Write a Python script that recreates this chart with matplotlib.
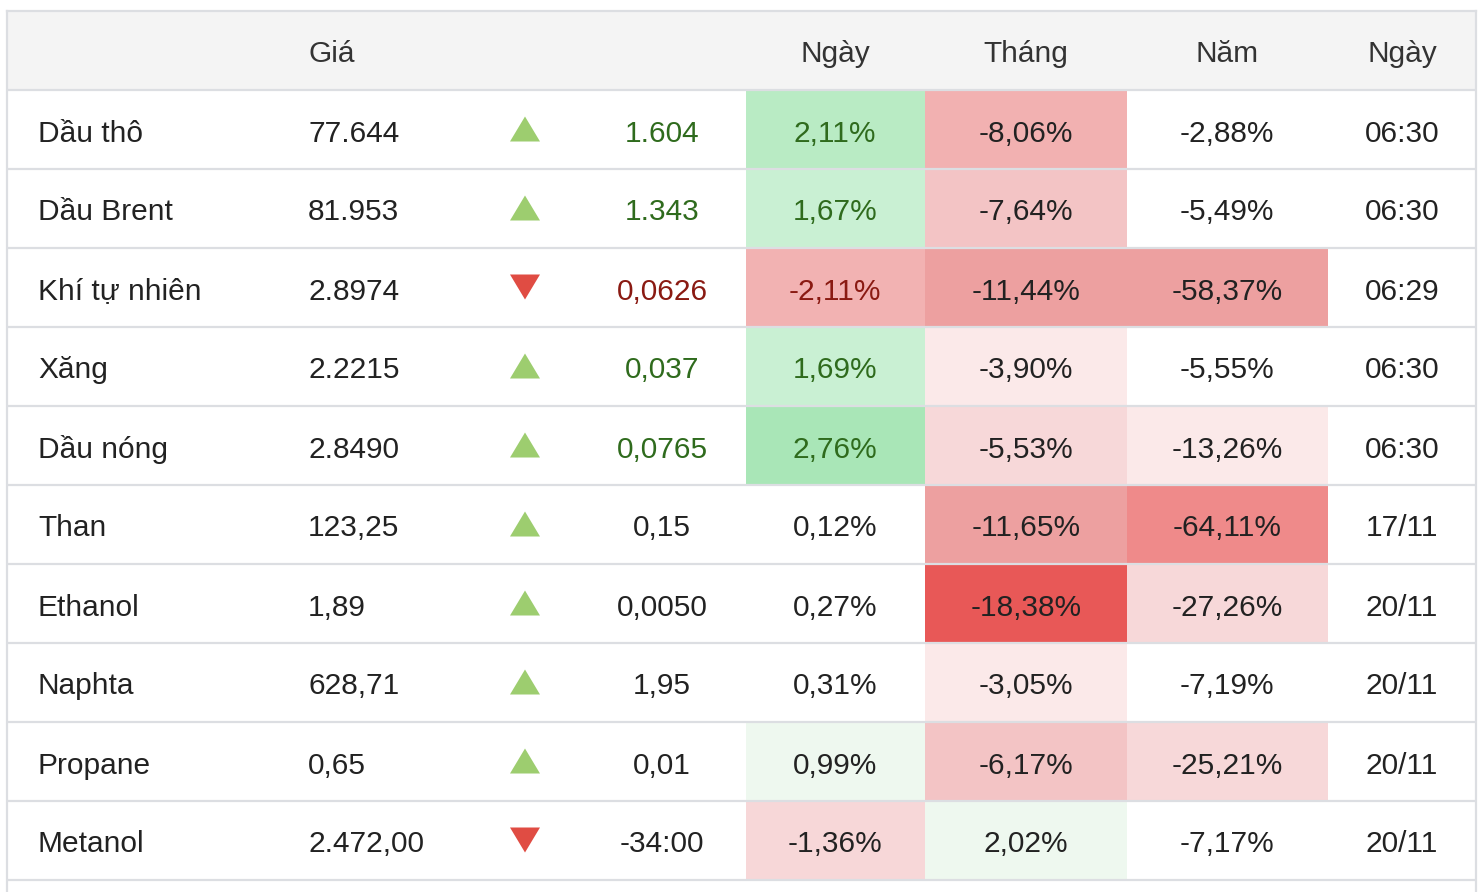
import matplotlib
matplotlib.use("Agg")
import matplotlib.pyplot as plt
from matplotlib.patches import Rectangle, Polygon

plt.rcParams['font.family'] = ['Liberation Sans', 'DejaVu Sans']

# ---- data ----
headers = ["", "Giá", "", "", "Ngày", "Tháng", "Năm", "Ngày"]
names = ["Dầu thô", "Dầu Brent", "Khí tự nhiên", "Xăng", "Dầu nóng",
         "Than", "Ethanol", "Naphta", "Propane", "Metanol"]
prices = ["77.644", "81.953", "2.8974", "2.2215", "2.8490",
          "123,25", "1,89", "628,71", "0,65", "2.472,00"]
direction = [1, 1, -1, 1, 1, 1, 1, 1, 1, -1]
changes = ["1.604", "1.343", "0,0626", "0,037", "0,0765",
           "0,15", "0,0050", "1,95", "0,01", "-34:00"]
change_color = ["#2f6b1d", "#2f6b1d", "#8a1a12", "#2f6b1d", "#2f6b1d",
                "#222222", "#222222", "#222222", "#222222", "#222222"]
day_pct = ["2,11%", "1,67%", "-2,11%", "1,69%", "2,76%",
           "0,12%", "0,27%", "0,31%", "0,99%", "-1,36%"]
month_pct = ["-8,06%", "-7,64%", "-11,44%", "-3,90%", "-5,53%",
             "-11,65%", "-18,38%", "-3,05%", "-6,17%", "2,02%"]
year_pct = ["-2,88%", "-5,49%", "-58,37%", "-5,55%", "-13,26%",
            "-64,11%", "-27,26%", "-7,19%", "-25,21%", "-7,17%"]
times = ["06:30", "06:30", "06:29", "06:30", "06:30",
         "17/11", "20/11", "20/11", "20/11", "20/11"]
day_bg = ["#b9ebc4", "#c9f0d3", "#f2b2b2", "#c9f0d3", "#a9e6b7",
          None, None, None, "#eef8ef", "#f7d7d8"]
month_bg = ["#f2b1b1", "#f3c4c5", "#eda0a0", "#fbe9e9", "#f7d8d9",
            "#eda0a0", "#e85857", "#fbe9e9", "#f3c4c5", "#eef8ef"]
year_bg = [None, None, "#eda0a0", None, "#fbe9e9",
           "#ef8a8a", "#f7d8d9", None, "#f7d8d9", None]

# ---- layout (pixel coordinates) ----
W, H = 1482, 892
left, right = 7, 1476
top, header_bot = 11, 90
row_h = 79
col_edges_pct = [746, 925, 1127, 1328]
x_name, x_price, x_tri, x_chg = 38, 308, 525, 662
x_day, x_month, x_year, x_time = 835, 1026, 1227, 1402
fs = 21.5
base_off = 51.5  # baseline offset from row top

fig = plt.figure(figsize=(W / 100, H / 100), dpi=100)
ax = fig.add_axes([0, 0, 1, 1])
ax.set_xlim(0, W)
ax.set_ylim(H, 0)
ax.axis('off')

# header background
ax.add_patch(Rectangle((left, top), right - left, header_bot - top,
                       facecolor="#f4f4f4", edgecolor="none", zorder=0))
hx = [None, x_price, None, None, x_day, x_month, x_year, x_time]
hy = 62
for h, x in zip(headers, hx):
    if h and x is not None:
        ha = 'left' if x == x_price else 'center'
        ax.text(x, hy, h, ha=ha, va='baseline', fontsize=fs, color="#333333", zorder=3)

n = len(names)
for i in range(n):
    y0 = header_bot + i * row_h
    yc = y0 + row_h / 2
    yt = y0 + base_off
    # colored cells
    for bg, (xa, xb) in zip([day_bg[i], month_bg[i], year_bg[i]],
                            zip(col_edges_pct[:-1], col_edges_pct[1:])):
        if bg:
            ax.add_patch(Rectangle((xa, y0), xb - xa, row_h,
                                   facecolor=bg, edgecolor="none", zorder=1))
    kw = dict(va='baseline', fontsize=fs, zorder=3)
    ax.text(x_name, yt, names[i], ha='left', color="#222222", **kw)
    ax.text(x_price, yt, prices[i], ha='left', color="#222222", **kw)
    # triangle
    tw, th = 15, 12.5
    ty = yc - 0.5
    if direction[i] > 0:
        pts = [(x_tri - tw, ty + th), (x_tri + tw, ty + th), (x_tri, ty - th)]
        col = "#9dcd6f"
    else:
        pts = [(x_tri - tw, ty - th), (x_tri + tw, ty - th), (x_tri, ty + th)]
        col = "#e04c43"
    ax.add_patch(Polygon(pts, closed=True, facecolor=col, edgecolor="none", zorder=3))
    ax.text(x_chg, yt, changes[i], ha='center', color=change_color[i], **kw)
    dcol = change_color[i] if i < 5 else "#222222"
    ax.text(x_day, yt, day_pct[i], ha='center', color=dcol, **kw)
    ax.text(x_month, yt, month_pct[i], ha='center', color="#222222", **kw)
    ax.text(x_year, yt, year_pct[i], ha='center', color="#222222", **kw)
    ax.text(x_time, yt, times[i], ha='center', color="#222222", **kw)

# grid lines
line_col = "#dcdee2"
for i in range(n + 1):
    y = header_bot + i * row_h
    ax.plot([left, right], [y, y], color=line_col, lw=1.6, zorder=2, solid_capstyle='butt')
ax.plot([left, right], [top, top], color=line_col, lw=1.6, zorder=2)
ax.plot([left, left], [top, H], color=line_col, lw=1.6, zorder=2)
ax.plot([right, right], [top, H], color=line_col, lw=1.6, zorder=2)

fig.savefig("out.png", dpi=100, facecolor="white")
